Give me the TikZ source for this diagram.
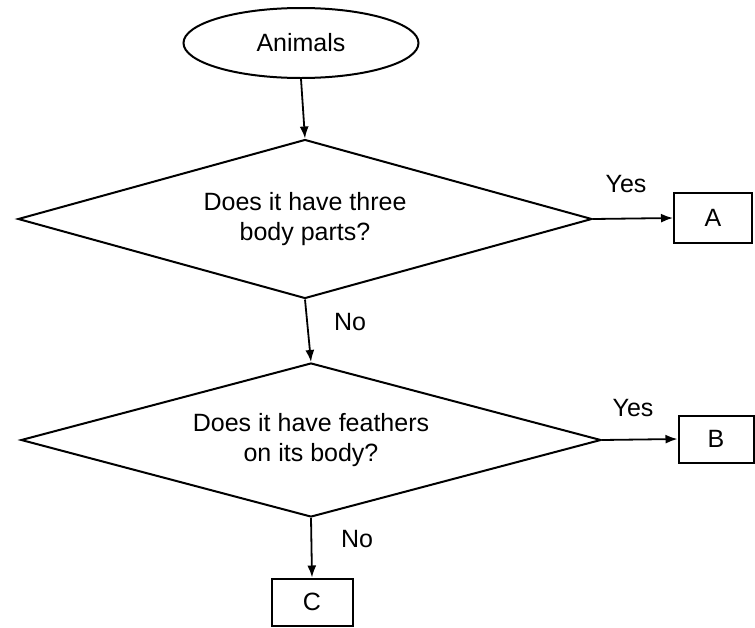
\documentclass[tikz,border=0pt]{standalone}
\usepackage{fontspec}
\setmainfont{Liberation Sans}
\usetikzlibrary{shapes.geometric}
\usetikzlibrary{arrows.meta}

\begin{document}
\begin{tikzpicture}[x=1pt,y=-1pt,
  every node/.style={font=\fontsize{25}{30}\selectfont},
  start/.style={ellipse,draw,line width=2pt},
  decision/.style={diamond,aspect=3.6,draw,line width=2pt,align=center,inner sep=0pt},
  answer/.style={rectangle,draw,line width=2pt,inner sep=0pt},
  flow/.style={-{Latex[length=12pt,width=9pt]},line width=1.8pt}]

\useasboundingbox (0,0) rectangle (755,627);

% start
\node[start,minimum width=235pt,minimum height=70pt] (animals) at (301,43) {Animals};

% questions
{
\node[decision,minimum width=574pt,minimum height=159pt] (q1) at (305,219) {Does it have three\\body parts?};
\node[decision,minimum width=580pt,minimum height=154pt] (q2) at (311,440) {Does it have feathers\\on its body?};
}

% answers
{
\node[answer,minimum width=78pt,minimum height=50pt] (a) at (713,218) {A};
\node[answer,minimum width=75pt,minimum height=47pt] (b) at (716,439) {B};
\node[answer,minimum width=81pt,minimum height=47pt] (c) at (312,602) {C};
}

% arrows
\draw[flow] (animals.south) -- (q1.north);
\draw[flow] (q1.east) -- (a.west);
\draw[flow] (q1.south) -- (q2.north);
\draw[flow] (q2.east) -- (b.west);
\draw[flow] (q2.south) -- (c.north);

% labels
{
\node (yes1) at (626,184) {Yes};
\node (no1) at (350,322) {No};
\node (yes2) at (633,408) {Yes};
\node (no2) at (357,539) {No};
}

\end{tikzpicture}
\end{document}
